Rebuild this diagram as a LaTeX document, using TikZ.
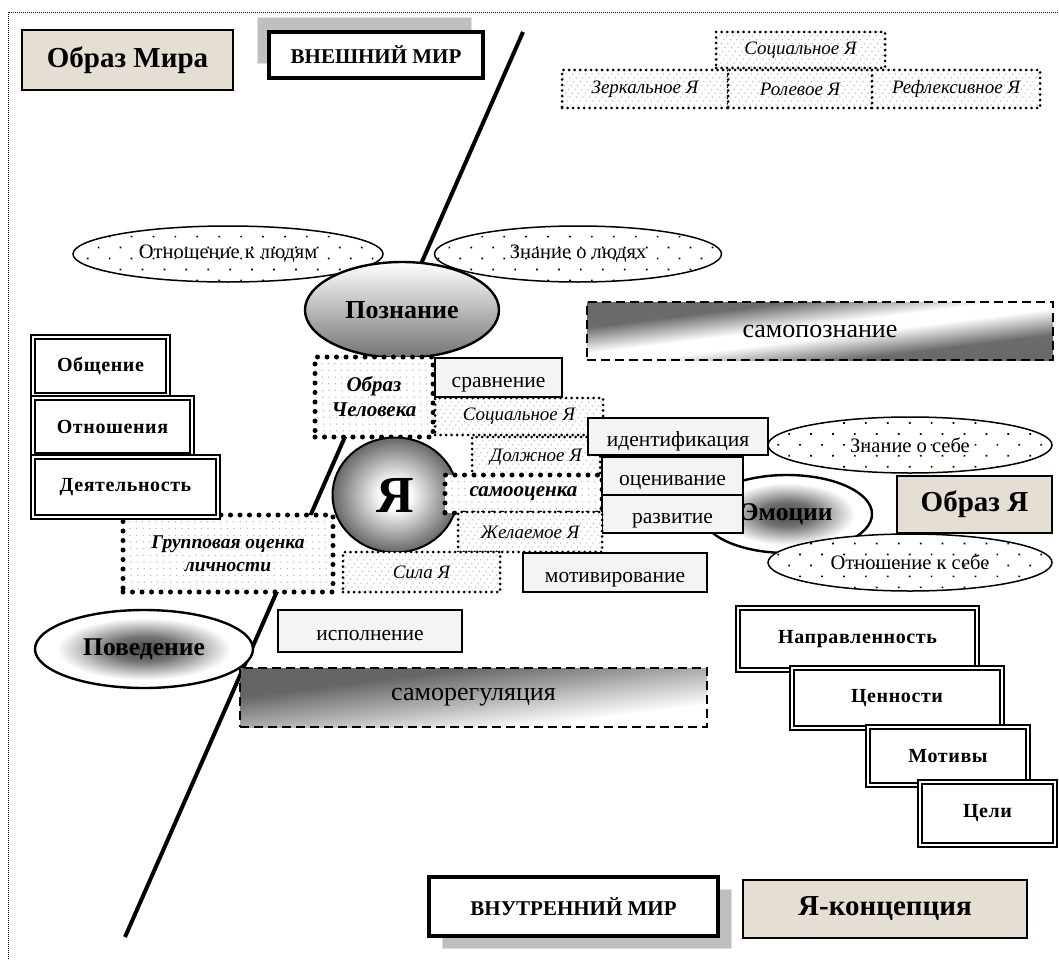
\documentclass[tikz,border=0pt]{standalone}
\usepackage{fontspec}
\setmainfont{Liberation Serif}
\newfontfamily\widefont[LetterSpace=3.0]{Liberation Serif}
\usetikzlibrary{shapes.geometric,patterns.meta,shadows}
\definecolor{beige}{RGB}{229,222,211}
\newcommand\fsz[2]{\fontsize{#1}{#2}\selectfont}
% заливки
\pgfdeclareradialshading{yashade}{\pgfpoint{0bp}{0bp}}{color(0bp)=(white); color(6bp)=(white); color(25bp)=(black!60); color(50bp)=(black!60)}
\pgfdeclareradialshading{glowshade}{\pgfpoint{0bp}{0bp}}{color(0bp)=(black!72); color(8bp)=(black!55); color(20bp)=(white); color(50bp)=(white)}
\pgfdeclarehorizontalshading{bandshade}{100bp}{color(0bp)=(black!60); color(30bp)=(black!58); color(46bp)=(white); color(54bp)=(white); color(70bp)=(black!58); color(100bp)=(black!60)}
\pgfdeclarehorizontalshading{fadeshade}{100bp}{color(0bp)=(black!62); color(32bp)=(black!60); color(72bp)=(white); color(100bp)=(white)}
\begin{document}
\begin{tikzpicture}[x=1pt,y=-1pt,
  beigebox/.style={draw, line width=1.4pt, fill=beige, inner sep=0pt, font=\bfseries\fsz{29}{33}},
  greybox/.style={draw, line width=2.6pt, fill=gray!9, inner sep=0pt, text height=19pt, text depth=0pt, font=\fsz{21.5}{24}},
  hatchlines/.style={path picture={\foreach \k in {-14,...,34} \draw[gray!55, line width=1.5pt] ([xshift=\k*6.5pt]path picture bounding box.north west) -- ++(150,150);}},
  hatchsmall/.style={fill=white, hatchlines, draw, line width=3pt, dash pattern=on 0pt off 5.5pt, line cap=round, inner sep=0pt, font=\itshape\fsz{19}{22}},
  hatchbig/.style={hatchsmall, line width=5pt, dash pattern=on 0pt off 9.5pt, font=\bfseries\itshape\fsz{20}{23}},
  dotell/.style={ellipse, draw, line width=1.5pt, preaction={fill=white}, pattern={Dots[angle=45,distance=15.5pt,radius=1.2pt]}, inner sep=0pt, font=\fsz{20.5}{23}},
  glowell/.style={ellipse, draw, line width=2.4pt, shade, shading=glowshade, inner sep=0pt, font=\bfseries\fsz{25.5}{28}},
  dashbox/.style={draw, line width=2.6pt, dash pattern=on 9pt off 5pt, inner sep=0pt, font=\fsz{26}{29}},
  framebox/.style={draw, fill=white, line width=2.2pt, double=white, double distance=1.2pt, inner sep=0pt, font=\widefont\bfseries\fsz{20}{23}},
  worldbox/.style={draw, fill=white, line width=4pt, inner sep=0pt, font=\bfseries\fsz{21}{24}},
]
\useasboundingbox (0,0) rectangle (1059,960);

% рамка
\draw[line width=0.8pt, dash pattern=on 1pt off 1pt] (8,975) -- (8,12) -- (1075,12);

% граница миров
\coordinate (lt) at (523,32);
\coordinate (lb) at (125,937);
\draw[line width=4pt] (lt) -- (lb);

% внешний мир
\node[beigebox, minimum width=211, minimum height=60] (obrazmira) at (127.5,60) {Образ Мира};
\node[worldbox, minimum width=214, minimum height=46, drop shadow={shadow xshift=-12pt, shadow yshift=14pt, fill=gray!50, draw=gray!25, line width=1pt, opacity=1}] (vnesh) at (376,55) {ВНЕШНИЙ МИР};

% социальное Я
\node[hatchsmall, minimum width=169, minimum height=36] (socverh) at (800.5,50) {Социальное Я};
\node[hatchsmall, minimum width=166, minimum height=38] (zerk) at (645,89) {Зеркальное Я};
\node[hatchsmall, minimum width=144, minimum height=38] (rol) at (800,89) {Ролевое Я};
\node[hatchsmall, minimum width=168, minimum height=38] (refl) at (956,89) {Рефлексивное Я};

% познание
\node[dotell, minimum width=310, minimum height=56] (otnlud) at (228,254) {Отношение к людям};
\node[dotell, minimum width=287, minimum height=56] (znlud) at (578,254) {Знание о людях};
\node[ellipse, draw, line width=2.4pt, top color=white, bottom color=black!55, inner sep=0pt, minimum width=194, minimum height=96, font=\bfseries\fsz{26}{29}] (poznanie) at (402,310) {Познание};
\shade[shading=bandshade, shading angle=-45, transform canvas={shift={(820,331)}, xscale=4.66, yscale=0.58}] (-50,-50) rectangle (50,50);
\node[dashbox, minimum width=466, minimum height=58] (samopozn) at (820,331) {самопознание};

% левый столбик
\node[hatchbig, font=\bfseries\itshape\fsz{19.5}{23}, minimum width=210, minimum height=77, align=center] (gruppa) at (228,553.5) {Групповая оценка\\личности};
\node[framebox, minimum width=135, minimum height=58] (obshch) at (100.5,366) {Общение};
\node[framebox, minimum width=159, minimum height=57] (otnosh) at (112.5,426.5) {Отношения};
\node[framebox, minimum width=185, minimum height=60] (deyat) at (125.5,487) {Деятельность};

% центр
\node[hatchbig, font=\bfseries\itshape\fsz{21}{25}, minimum width=118, minimum height=80, align=center] (obrazchel) at (374,397) {Образ\\Человека};
\node[greybox, minimum width=127, minimum height=39] (sravn) at (498.5,377.5) {сравнение};
\node[hatchsmall, minimum width=168, minimum height=37] (socniz) at (519,416.5) {Социальное Я};
\node[hatchsmall, minimum width=128, minimum height=40] (dolzh) at (536,457) {Должное Я};
\node[greybox, minimum width=180, minimum height=37] (ident) at (678,436.5) {идентификация};
\node[ellipse, draw, line width=2pt, shade, shading=yashade, inner sep=0pt, minimum width=125, minimum height=115, font=\bfseries\fsz{52}{56}] (ya) at (395,495) {Я};
\node[glowell, minimum width=170, minimum height=78] (emocii) at (787,514) {Эмоции};
\node[hatchbig, font=\bfseries\itshape\fsz{21}{24}, minimum width=157, minimum height=38] (samoocen) at (523.5,494) {самооценка};
\node[greybox, minimum width=141, minimum height=38] (ocen) at (672.5,476) {оценивание};
\node[greybox, minimum width=141, minimum height=38] (razv) at (672.5,514) {развитие};
\node[hatchsmall, minimum width=144, minimum height=40] (zhelaem) at (530,532) {Желаемое Я};
\node[hatchsmall, minimum width=157, minimum height=40] (sila) at (421.5,572) {Сила Я};
\node[greybox, minimum width=184, minimum height=39] (motiv) at (615,572.5) {мотивирование};

% образ Я
\node[dotell, minimum width=284, minimum height=56] (znsebe) at (910,445) {Знание о себе};
\node[beigebox, minimum width=155, minimum height=57] (obrazya) at (974.5,504.5) {Образ Я};
\node[dotell, minimum width=284, minimum height=57] (otnsebe) at (910,562.5) {Отношение к себе};

% поведение
\node[glowell, minimum width=218, minimum height=78] (poved) at (144,649) {Поведение};
\node[greybox, minimum width=184, minimum height=42] (ispoln) at (370,631) {исполнение};
\shade[shading=fadeshade, shading angle=-45, transform canvas={shift={(473.5,697.5)}, xscale=4.67, yscale=0.59}] (-50,-50) rectangle (50,50);
\node[dashbox, minimum width=467, minimum height=59] (samoreg) at (473.5,697.5) {саморегуляция};

% правый столбик
\node[framebox, minimum width=239, minimum height=62] (napravl) at (857.5,639) {Направленность};
\node[framebox, minimum width=210, minimum height=60] (cennost) at (897,698) {Ценности};
\node[framebox, minimum width=160, minimum height=58] (motivy) at (948,756) {Мотивы};
\node[framebox, minimum width=135, minimum height=63] (celi) at (987.5,813.5) {Цели};

% внутренний мир
\node[worldbox, line width=3.5pt, minimum width=289, minimum height=59, drop shadow={shadow xshift=13pt, shadow yshift=-12pt, fill=gray!50, draw=gray!25, line width=1pt, opacity=1}] (vnutr) at (573.5,906.5) {ВНУТРЕННИЙ МИР};
\node[beigebox, minimum width=284, minimum height=58] (yakoncep) at (885,909) {Я-концепция};
\end{tikzpicture}
\end{document}
